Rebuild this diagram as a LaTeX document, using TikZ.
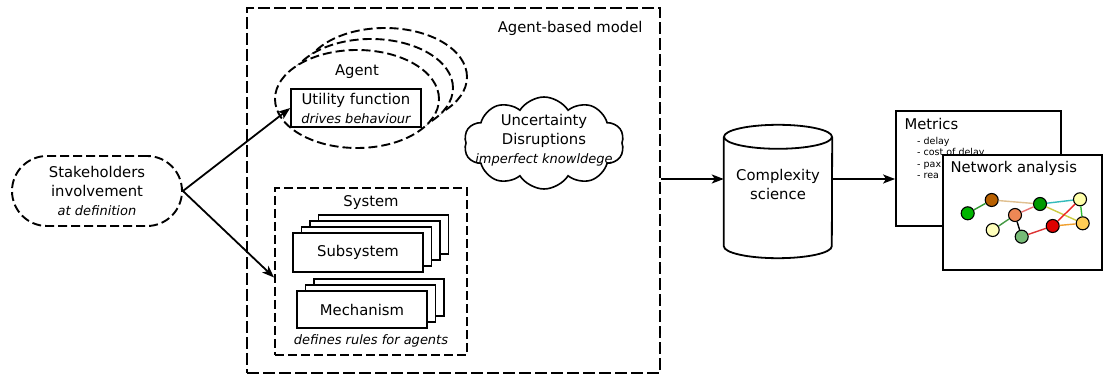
\documentclass[tikz,border=0pt]{standalone}
\usepackage{fontspec}
\setmainfont{DejaVu Sans}
\usetikzlibrary{shapes.geometric,shapes.symbols,arrows.meta,calc}
\definecolor{cA}{HTML}{00B400}
\definecolor{cB}{HTML}{B86000}
\definecolor{cC}{HTML}{009A00}
\definecolor{cD}{HTML}{FFFFAA}
\definecolor{cE}{HTML}{EE8855}
\definecolor{cF}{HTML}{FFFFBB}
\definecolor{cG}{HTML}{77BB77}
\definecolor{cH}{HTML}{DD0000}
\definecolor{cI}{HTML}{FFCC55}
\definecolor{eAB}{HTML}{339933}
\definecolor{eBC}{HTML}{E0C090}
\definecolor{eCE}{HTML}{E87070}
\definecolor{eCD}{HTML}{33BBBB}
\definecolor{eCI}{HTML}{CCCC44}
\definecolor{eDI}{HTML}{33BB33}
\definecolor{eDH}{HTML}{EE2222}
\definecolor{eHI}{HTML}{F0A030}
\definecolor{eHG}{HTML}{DD3333}
\definecolor{eEF}{HTML}{449944}
\begin{document}
\begin{tikzpicture}[x=1pt,y=-1pt, font=\fontsize{14.8}{19}\selectfont,
 dsh/.style={dash pattern=on 9pt off 4pt, line width=1.9pt},
 box/.style={draw, line width=1.6pt, fill=white, minimum width=130pt, inner sep=0pt},
 arr/.style={line width=1.8pt, -{Stealth[length=12pt,width=9pt,inset=3pt]}},
 itx/.style={font=\fontsize{13}{17}\selectfont\itshape},
 agentell/.style={ellipse, draw, dsh, fill=white, minimum width=164pt, minimum height=98pt, inner sep=0pt},
 nd/.style={circle, draw, line width=1.1pt, minimum size=13pt, inner sep=0pt},
 ed/.style={line width=1.4pt},
]
\useasboundingbox (0,0) rectangle (1103,379);

% Stakeholders
\node[draw, dsh, rounded corners=35pt, minimum width=170pt, minimum height=70pt, align=center, inner sep=0pt] (sh) at (97,191)
  {Stakeholders\\involvement\\{\fontsize{13}{17}\selectfont\itshape at definition}};

% Agent-based model
\node[draw, dash pattern=on 12pt off 4pt, line width=2.4pt, minimum width=413pt, minimum height=365pt] (abm) at (453.5,190.5) {};
\node[anchor=east] (abml) at (646,28) {Agent-based model};

% Agents
\node[agentell] (ag3) at (385,77) {};
\node[agentell] (ag2) at (371,88) {};
\node[agentell] (ag) at (357,99) {};
\node (agl) at (357,72) {Agent};
\node[box, minimum height=38pt, align=center] (uf) at (356,108) {Utility function\\{\fontsize{13}{17}\selectfont\itshape drives behaviour}};

% Cloud
\node[cloud, draw, line width=1.6pt, cloud puffs=10, cloud puff arc=115, aspect=1.75, minimum width=160pt, minimum height=92pt, inner sep=0pt] (cl) at (544,143) {};
\node[align=center] (clt) at (544,140) {Uncertainty\\Disruptions\\{\fontsize{13}{17}\selectfont\itshape imperfect knowldege}};

% System
\node[draw, dsh, minimum width=192pt, minimum height=167pt] (sys) at (371,271.5) {};
\node (sysl) at (371,203) {System};
\node[box, minimum height=39pt] (ss3) at (383.5,234.5) {};
\node[box, minimum height=39pt] (ss2) at (375,240.5) {};
\node[box, minimum height=39pt] (ss1) at (366.5,246.5) {};
\node[box, minimum height=39pt] (ss) at (358,252.5) {Subsystem};
\node[box, minimum height=37pt] (me2) at (379,297.5) {};
\node[box, minimum height=37pt] (me1) at (370.5,303.5) {};
\node[box, minimum height=37pt] (me) at (362,309.5) {Mechanism};
\node[itx] (defl) at (371,341) {defines rules for agents};

% arrows from stakeholders
\draw[arr] (sh.east) -- (uf.west);
\draw[arr] (sh.east) -- ([yshift=-6pt]sys.west);

% Cylinder
\node[minimum width=108pt, minimum height=133pt, inner sep=0pt] (cs) at (778,191.5) {};
\draw[line width=1.8pt, fill=white] ($(cs.north west)+(0,12)$) -- ($(cs.south west)+(0,-12)$)
  arc[start angle=180, end angle=360, x radius=54pt, y radius=12pt] -- ($(cs.north east)+(0,12)$);
\draw[line width=1.8pt] ($(cs.north)+(0,12)$) ellipse [x radius=54pt, y radius=12pt];
\node[align=center] (cst) at (778,184) {Complexity\\science};

% Metrics
\node[draw, line width=1.8pt, fill=white, minimum width=165pt, minimum height=115pt] (met) at (978.5,168.5) {};
\node[anchor=west] (metl) at (901,124) {Metrics};
\node[anchor=north west, align=left, font=\fontsize{9.5}{11.5}\selectfont, inner sep=0pt] (metli) at (917,137)
  {- delay\\- cost of delay\\- pax\\- rea};

\draw[arr] ([yshift=11.5pt]abm.east) -- ([yshift=11.5pt]abm.east -| cs.west);
\draw[arr] ([yshift=12.5pt]cs.east) -- ([yshift=12.5pt]cs.east -| met.west);

% Network analysis
\node[draw, line width=1.8pt, fill=white, minimum width=159pt, minimum height=115pt] (net) at (1022.5,212.5) {};
\node[anchor=west] (netl) at (947,168) {Network analysis};

\node[nd, fill=cA] (nA) at (967.7,213.3) {};
\node[nd, fill=cB] (nB) at (991.7,200) {};
\node[nd, fill=cC] (nC) at (1040,204) {};
\node[nd, fill=cD] (nD) at (1080,199.3) {};
\node[nd, fill=cE] (nE) at (1015,215) {};
\node[nd, fill=cF] (nF) at (992.7,230) {};
\node[nd, fill=cG] (nG) at (1021.7,236.7) {};
\node[nd, fill=cH] (nH) at (1052.7,226) {};
\node[nd, fill=cI] (nI) at (1082.7,223.3) {};
\draw[ed, eAB] (nA) -- (nB);
\draw[ed, eBC] (nB) -- (nC);
\draw[ed, eCE] (nC) -- (nE);
\draw[ed, eCD] (nC) -- (nD);
\draw[ed, eCI] (nC) -- (nI);
\draw[ed, eDI] (nD) -- (nI);
\draw[ed, eDH] (nD) -- (nH);
\draw[ed, eHI] (nH) -- (nI);
\draw[ed, eHG] (nH) -- (nG);
\draw[ed, black] (nG) -- (nE);
\draw[ed, eEF] (nE) -- (nF);
\end{tikzpicture}
\end{document}
